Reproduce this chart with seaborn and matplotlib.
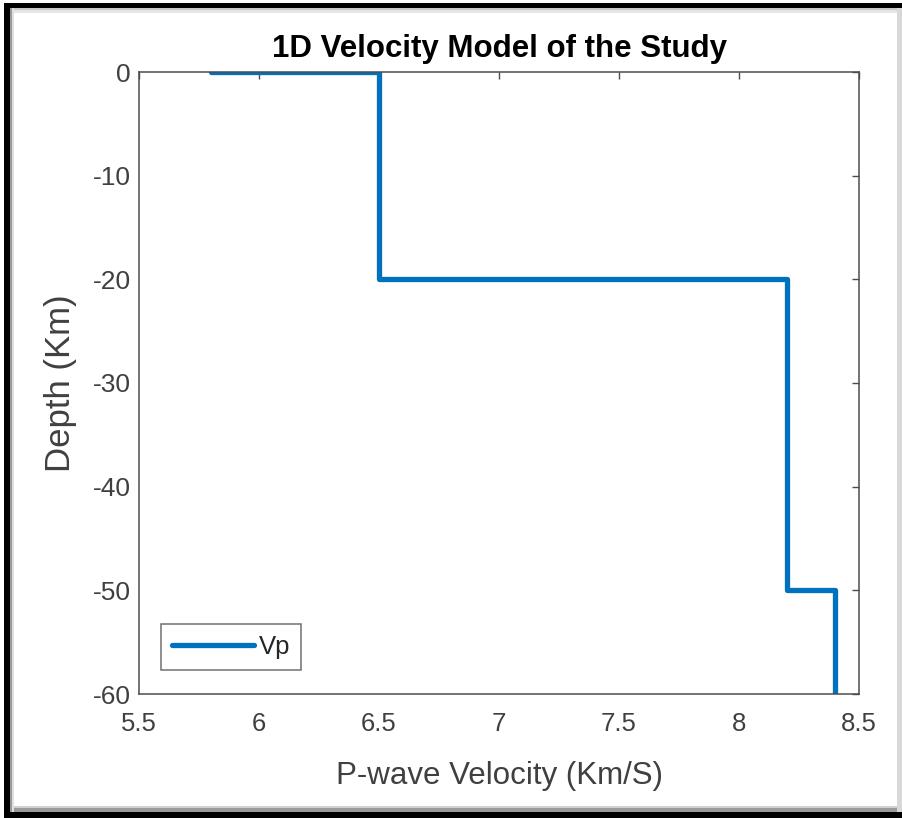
import matplotlib
matplotlib.use("Agg")
import matplotlib.pyplot as plt
import seaborn as sns
import pandas as pd
from matplotlib.patches import Rectangle

velocity = [5.8, 6.5, 6.5, 8.2, 8.2, 8.4, 8.4]
depth = [0, 0, -20, -20, -50, -50, -60]
x_ticks = [5.5, 6, 6.5, 7, 7.5, 8, 8.5]
x_tick_labels = ["5.5", "6", "6.5", "7", "7.5", "8", "8.5"]
y_ticks = [0, -10, -20, -30, -40, -50, -60]
y_tick_labels = ["0", "-10", "-20", "-30", "-40", "-50", "-60"]

sns.set_style("white")
plt.rcParams['font.family'] = ['Liberation Sans', 'DejaVu Sans']

df = pd.DataFrame({"Velocity": velocity, "Depth": depth})

W, H = 902, 818
fig = plt.figure(figsize=(W / 100, H / 100), dpi=100)
ax = fig.add_axes([139 / W, 1 - 694 / H, (859 - 139) / W, (694 - 72) / H])

sns.lineplot(data=df, x="Velocity", y="Depth", sort=False, estimator=None,
             color="#0072BD", linewidth=3.8, ax=ax, label="Vp")

ax.set_xlim(5.5, 8.5)
ax.set_ylim(-60, 0)
ax.set_xticks(x_ticks)
ax.set_xticklabels(x_tick_labels)
ax.set_yticks(y_ticks)
ax.set_yticklabels(y_tick_labels)
ax.tick_params(direction="in", length=5, width=1, colors="#4d4d4d",
               labelcolor="#404040", top=True, right=True)
ax.tick_params(axis="x", labelsize=18.5, pad=13)
ax.tick_params(axis="y", labelsize=19, pad=6)
for s in ax.spines.values():
    s.set_visible(True)
    s.set_color("#4d4d4d")
    s.set_linewidth(1.1)

ax.set_xlabel("P-wave Velocity (Km/S)", fontsize=22.5, color="#404040", labelpad=18)
ax.set_ylabel("Depth (Km)", fontsize=25, color="#404040", labelpad=11)
ax.set_title("1D Velocity Model of the Study", fontsize=22.5, fontweight="bold",
             color="black", pad=10.5)

leg = ax.legend(loc="lower left", bbox_to_anchor=(22 / 720, 24 / 622), fontsize=18.5,
                frameon=True, fancybox=False, handlelength=3.2, handletextpad=0.2,
                borderpad=0.42, borderaxespad=0)
leg.get_frame().set_edgecolor("#4d4d4d")
leg.get_frame().set_linewidth(1.1)
for t in leg.get_texts():
    t.set_color("#262626")


def px_rect(x0, y0, x1, y1, color):
    fig.patches.append(Rectangle((x0 / W, 1 - y1 / H), (x1 - x0) / W, (y1 - y0) / H,
                                 transform=fig.transFigure, facecolor=color,
                                 edgecolor="none", zorder=10))


# outer frame (screenshot border with shadow)
px_rect(11, 8, 902, 10, "#c8c8c8")
px_rect(11, 10, 902, 13, "#e6e6e6")
px_rect(11, 806, 902, 808, "#d0d0d0")
px_rect(11, 808, 902, 812, "#9a9a9a")
px_rect(10, 8, 12, 812, "#9a9a9a")
px_rect(12, 8, 14, 812, "#e0e0e0")
px_rect(897, 8, 902, 812, "#d8d8d8")
px_rect(4, 3, 902, 8, "black")
px_rect(4, 3, 10, 818, "black")
px_rect(4, 812, 902, 818, "black")

fig.savefig("out.png", dpi=100)
